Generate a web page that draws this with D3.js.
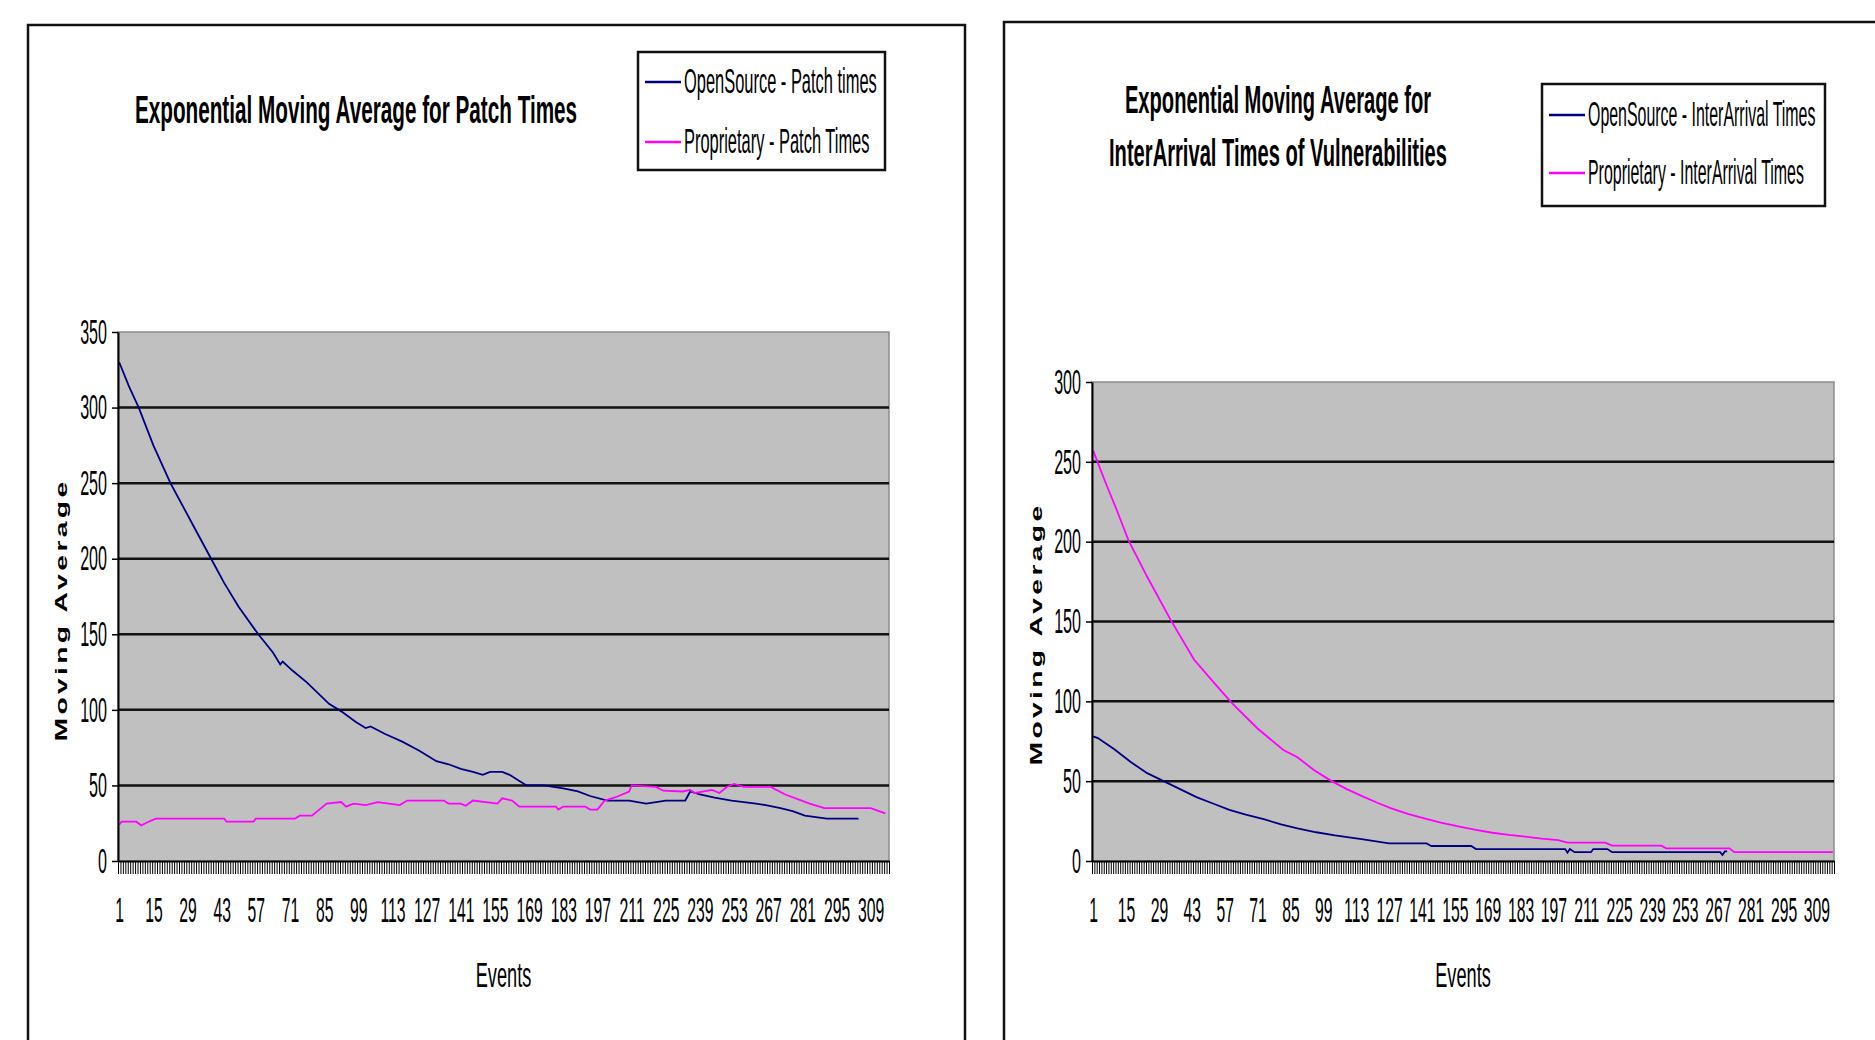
<!DOCTYPE html>
<html lang="en">
<head>
<meta charset="UTF-8">
<title>Exponential Moving Average</title>
<script src="https://d3js.org/d3.v7.min.js"></script>
<style>
    body { margin: 0; background: #fff; }
    svg text { font-family: "Liberation Sans", Arial, sans-serif; fill: #000; }
</style>
</head>
<body>
<svg id="chart" width="1875" height="1040"></svg>
<script>
// ---- data ----
const events = d3.range(1, 317);   // category axis: event number 1..316
const eventLabels = [1, 15, 29, 43, 57, 71, 85, 99, 113, 127, 141, 155, 169, 183, 197, 211, 225, 239, 253, 267, 281, 295, 309];
const patchTicks = [0, 50, 100, 150, 200, 250, 300, 350];
const arrivalTicks = [0, 50, 100, 150, 200, 250, 300];

const patchTitle = ["Exponential Moving Average for Patch Times"];
const arrivalTitle = ["Exponential Moving Average for", "InterArrival Times of Vulnerabilities"];
const patchLegend = ["OpenSource - Patch times", "Proprietary - Patch Times"];
const arrivalLegend = ["OpenSource - InterArrival Times", "Proprietary - InterArrival Times"];

// [event, moving average]
const osPatch = [[1,330],[5,314],[9,300],[15,275],[22,250],[29,229],[31,223],[39,199],[44,184],[50,168],[58,150],
    [64,138],[67,130],[68,132],[72,126],[78,118],[87,104],[92,99],[98,92],[102,88],[104,89],[110,84],[117,79],
    [124,73],[131,66],[136,64],[141,61],[146,59],[150,57],[153,59],[158,59],[161,57],[165,53],[168,50],[175,50],
    [183,48],[189,46],[194,43],[201,40],[210,40],[217,38],[225,40],[233,40],[235,46],[239,44],[245,42],[252,40],
    [262,38],[266,37],[272,35],[277,33],[282,30],[291,28],[304,28]];
const propPatch = [[1,24],[2,26],[8,26],[10,23.5],[13,26],[16,28],[44,28],[45,26],[56,26],[57,28],[73,28],[75,30],
    [80,30],[83,34],[86,38],[92,39],[94,36],[97,38],[102,37],[107,39],[116,37],[119,40],[134,40],[136,38],[141,38],
    [143,36.5],[146,40],[156,38],[158,41.5],[162,40],[165,36],[180,36],[181,34],[183,36],[192,36],[194,34],[197,34],
    [200,40],[205,42.5],[210,46],[211,50],[221,49],[224,46.5],[232,46],[235,47],[237,45],[244,47],[247,45],[250,49],
    [253,51],[257,49],[268,49],[274,44],[284,38],[290,35],[309,35],[315,31.5]];
const osArrival = [[1,78],[3,77],[10,70],[17,62],[24,55],[31,50],[38,45],[45,40],[52,36],[59,32],[66,29],[74,26],
    [81,23],[88,20.5],[96,18],[104,16],[116,13.6],[127,11],[143,11],[145,9.4],[162,9.4],[164,7.5],[202,7.5],[203,5.2],
    [204,7.5],[206,5.5],[213,5.5],[214,7.5],[220,7.5],[222,5.5],[268,5.5],[269,3.8],[270,6],[271,6]];
const propArrival = [[1,257],[6,238],[11,220],[16,201],[24,178],[34,151],[44,126],[54,109],[60,99],[71,83],[82,69.5],
    [88,65],[95,57],[102,50.5],[109,45],[116,40.3],[122,36.5],[128,33],[135,29.5],[142,26.7],[149,24],[157,21.5],
    [164,19.5],[171,17.7],[178,16.4],[185,15.2],[192,14],[199,13.1],[203,11.5],[219,11.5],[222,9.6],[243,9.6],
    [245,7.9],[272,7.9],[274,5.5],[316,5.5]];

const NAVY = "#000080", MAGENTA = "#ff00ff";

const svg = d3.select("#chart");

// the original uses a very narrow font: squeeze text horizontally around its x
function squash(sel, k) {
    sel.each(function() {
        const x = +this.getAttribute("x") || 0;
        d3.select(this).attr("transform", `translate(${x * (1 - k)},0) scale(${k},1)`);
    });
}

function drawPanel(p) {
    const g = svg.append("g");

    g.append("rect")
        .attr("x", p.frame[0]).attr("y", p.frame[1])
        .attr("width", p.frame[2]).attr("height", p.frame[3])
        .attr("fill", "none").attr("stroke", "#111").attr("stroke-width", 2.5);

    const x = d3.scaleLinear().domain([0.5, events.length + 0.5]).range([p.left, p.right]);
    const y = d3.scaleLinear().domain([0, p.yMax]).range([p.bottom, p.top]);

    g.append("rect")
        .attr("x", p.left).attr("y", p.top)
        .attr("width", p.right - p.left).attr("height", p.bottom - p.top)
        .attr("fill", "#c0c0c0").attr("stroke", "#8c8c8c").attr("stroke-width", 1.5);

    g.append("g").selectAll("line")
        .data(p.yTicks.filter(v => v > 0 && v < p.yMax))
        .join("line")
        .attr("x1", p.left).attr("x2", p.right)
        .attr("y1", d => y(d)).attr("y2", d => y(d))
        .attr("stroke", "#111").attr("stroke-width", 2.5);

    const line = d3.line().x(d => x(d[0])).y(d => y(d[1]));
    p.series.forEach(s => {
        g.append("path").datum(s.values)
            .attr("fill", "none").attr("stroke", s.color).attr("stroke-width", 1.8)
            .attr("d", line);
    });

    // dense category tick marks between events
    const comb = g.append("g").attr("transform", `translate(0,${p.bottom})`)
        .call(d3.axisBottom(x)
            .tickValues(events.map(e => e - 0.5).concat([events.length + 0.5]))
            .tickSize(13).tickSizeOuter(0).tickFormat(""));
    comb.selectAll(".tick line").attr("stroke", "#000").attr("stroke-width", 1);
    comb.select(".domain").attr("stroke", "#000").attr("stroke-width", 2);

    const lab = g.append("g").attr("transform", `translate(0,${p.bottom})`)
        .call(d3.axisBottom(x).tickValues(eventLabels).tickSize(0).tickPadding(36));
    lab.select(".domain").remove();
    lab.selectAll("text").attr("font-size", 35).call(squash, 0.45);

    const ya = g.append("g").attr("transform", `translate(${p.left},0)`)
        .call(d3.axisLeft(y).tickValues(p.yTicks).tickSize(6).tickPadding(5).tickSizeOuter(0));
    ya.select(".domain").attr("stroke", "#000").attr("stroke-width", 2);
    ya.selectAll(".tick line").attr("stroke", "#000").attr("stroke-width", 1.5);
    ya.selectAll("text").attr("font-size", 35).call(squash, 0.46);

    // axis titles
    g.append("text")
        .attr("x", (p.left + p.right) / 2).attr("y", 987)
        .attr("text-anchor", "middle").attr("font-size", 35)
        .text("Events").call(squash, 0.52);

    g.append("text")
        .attr("transform", `translate(${p.yTitle[0]},${p.yTitle[1]}) rotate(-90)`)
        .attr("text-anchor", "middle").attr("font-size", 17).attr("font-weight", "bold")
        .attr("letter-spacing", 2)
        .attr("textLength", 263).attr("lengthAdjust", "spacingAndGlyphs")
        .text("Moving Average");

    // chart title
    g.selectAll(".title").data(p.title).join("text")
        .attr("class", "title")
        .attr("x", p.titleX).attr("y", (d, i) => p.titleY + i * 53)
        .attr("text-anchor", "middle").attr("font-size", 38).attr("font-weight", "bold")
        .text(d => d).call(squash, p.titleSquash);

    // legend
    const lg = p.legend;
    g.append("rect")
        .attr("x", lg.x).attr("y", lg.y).attr("width", lg.w).attr("height", lg.h)
        .attr("fill", "#fff").attr("stroke", "#111").attr("stroke-width", 2.5);
    p.series.forEach((s, i) => {
        const cy = lg.y + lg.first + i * lg.gap;
        g.append("line")
            .attr("x1", lg.x + 7).attr("x2", lg.x + 43).attr("y1", cy).attr("y2", cy)
            .attr("stroke", s.color).attr("stroke-width", 2.5);
        g.append("text")
            .attr("x", lg.x + 46).attr("y", cy + 11)
            .attr("font-size", 35).text(s.name).call(squash, lg.squash);
    });
}

drawPanel({
    frame: [28, 25, 937, 1060],
    left: 118, right: 889, top: 332, bottom: 861,
    yMax: 350, yTicks: patchTicks,
    yTitle: [67, 610],
    title: patchTitle, titleX: 356, titleY: 123, titleSquash: 0.545,
    legend: { x: 638, y: 52, w: 247, h: 118, first: 30, gap: 60, squash: 0.47 },
    series: [
        { name: patchLegend[0], color: NAVY, values: osPatch },
        { name: patchLegend[1], color: MAGENTA, values: propPatch }
    ]
});

drawPanel({
    frame: [1004, 22, 900, 1060],
    left: 1092, right: 1834, top: 382, bottom: 861,
    yMax: 300, yTicks: arrivalTicks,
    yTitle: [1042, 634],
    title: arrivalTitle, titleX: 1278, titleY: 113, titleSquash: 0.53,
    legend: { x: 1542, y: 84, w: 283, h: 122, first: 31, gap: 58, squash: 0.455 },
    series: [
        { name: arrivalLegend[0], color: NAVY, values: osArrival },
        { name: arrivalLegend[1], color: MAGENTA, values: propArrival }
    ]
});
</script>
</body>
</html>
